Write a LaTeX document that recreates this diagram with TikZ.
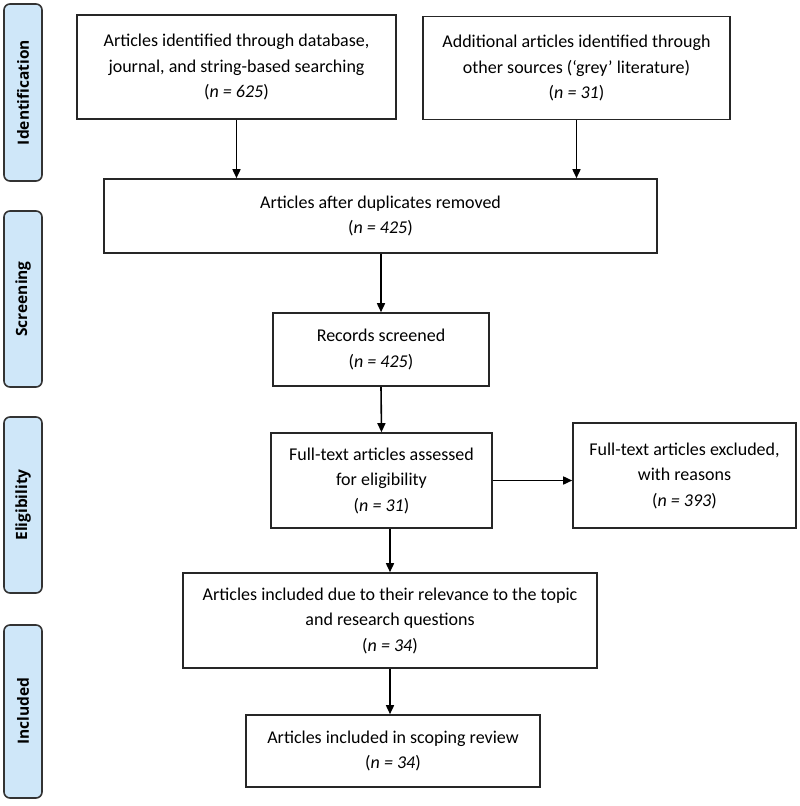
\documentclass[tikz,border=0pt]{standalone}
\usepackage{fontspec}
\setmainfont{Carlito}
\newfontfamily\phasefont{Open Sans}
\usetikzlibrary{arrows.meta}
\definecolor{phaseblue}{RGB}{207,231,249}
\tikzset{
	stagebox/.style={draw=black!85, line width=1.6pt, align=center, inner sep=0pt,
		font=\fontsize{18}{25.5}\selectfont},
	phase/.style={draw=black!80, line width=1.6pt, fill=phaseblue, rounded corners=6pt,
		rotate=90, minimum height=38pt, font=\phasefont\bfseries\fontsize{15.5}{18}\selectfont},
	flow/.style={-{Triangle[width=8pt,length=9pt]}, line width=1.6pt}
}
\begin{document}
\begin{tikzpicture}[x=1pt,y=-1pt]
	\useasboundingbox (0,0) rectangle (800,806);
	% phases down the left side
	\foreach \y/\len/\name in {92.5/177/Identification,
							299/176/Screening,
							505/176/Eligibility,
							711.5/173/Included}
		\node[phase, minimum width=\len pt] (phase-\name) at (23,\y) {\name};
	% boxes
	\node[stagebox, minimum width=319pt, minimum height=104pt] (ident1) at (236.5,67)
		{Articles identified through database,\\ journal, and string-based searching\\ (\textit{n = 625})};
	\node[stagebox, minimum width=307pt, minimum height=103pt] (ident2) at (576.5,68)
		{Additional articles identified through\\ other sources (‘grey’ literature)\\ (\textit{n = 31})};
	\node[stagebox, minimum width=553pt, minimum height=74pt] (dedup) at (380.5,216)
		{Articles after duplicates removed\\ (\textit{n = 425})};
	\node[stagebox, minimum width=216pt, minimum height=73pt] (screen) at (381,349.5)
		{Records screened\\ (\textit{n = 425})};
	\node[stagebox, minimum width=221pt, minimum height=95pt] (fulltext) at (381.5,480.5)
		{Full-text articles assessed\\ for eligibility\\ (\textit{n = 31})};
	\node[stagebox, minimum width=223pt, minimum height=105pt] (excluded) at (684.5,475.5)
		{Full-text articles excluded,\\ with reasons\\ (\textit{n = 393})};
	\node[stagebox, minimum width=414pt, minimum height=95pt] (relevant) at (390,620.5)
		{Articles included due to their relevance to the topic\\ and research questions\\ (\textit{n = 34})};
	\node[stagebox, minimum width=294pt, minimum height=72pt] (review) at (393,751)
		{Articles included in scoping review\\ (\textit{n = 34})};
	% arrows
	\draw[flow] (ident1.south) -- (ident1.south |- dedup.north);
	\draw[flow] (ident2.south) -- (ident2.south |- dedup.north);
	\draw[flow] (screen.north |- dedup.south) -- (screen.north);
	\draw[flow] (screen.south) -- (fulltext.north);
	\draw[flow] (fulltext.east) -- (fulltext.east -| excluded.west);
	\draw[flow] (relevant.north |- fulltext.south) -- (relevant.north);
	\draw[flow] (relevant.south) -- (relevant.south |- review.north);
\end{tikzpicture}
\end{document}
